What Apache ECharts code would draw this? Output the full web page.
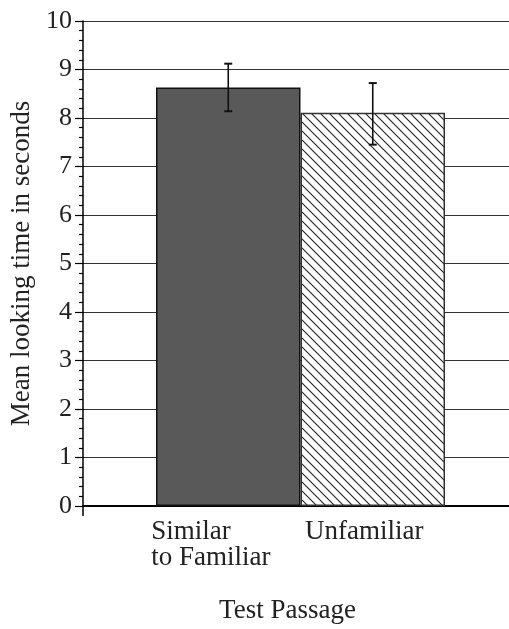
<!DOCTYPE html>
<html><head><meta charset="utf-8">
<script src="https://cdn.jsdelivr.net/npm/echarts@6/dist/echarts.min.js"></script>
<style>html,body{margin:0;padding:0;background:#fff}#c{width:509px;height:629px}</style>
</head><body><div id="c"></div>
<script>
var categories = ['Similar\nto Familiar', 'Unfamiliar'];
var means = [8.63, 8.11];
var errLow = [8.14, 7.45];
var errHigh = [9.12, 8.72];
var yTicks = [0,1,2,3,4,5,6,7,8,9,10];
var xTitle = 'Test Passage';
var yTitle = 'Mean looking time in seconds';

var FONT = '"Liberation Serif", "DejaVu Serif", serif';

function hatch(){
  var s = 9, c = document.createElement('canvas');
  c.width = s; c.height = s;
  var g = c.getContext('2d');
  g.fillStyle = '#fff'; g.fillRect(0,0,s,s);
  g.strokeStyle = '#222'; g.lineWidth = 1.1;
  g.beginPath();
  g.moveTo(-1,-1); g.lineTo(s+1,s+1);
  g.moveTo(-1,s-1); g.lineTo(1,s+1);
  g.moveTo(s-1,-1); g.lineTo(s+1,1);
  g.stroke();
  return c;
}

var chart = echarts.init(document.getElementById('c'), null, {renderer:'canvas'});
var errData = categories.map(function(c,i){ return [i, errLow[i], errHigh[i]]; });

chart.setOption({
  animation: false,
  grid: [
    {left: 83, right: 0, top: 21, bottom: 123},
    {left: 156, right: 64, top: 21, bottom: 123},
    {left: 134, right: 68, top: 21, bottom: 123}
  ],
  xAxis: [
    {gridIndex: 0, type: 'value', min: 0, max: 1,
     axisLine: {show: true, lineStyle: {color: '#000', width: 2}},
     axisTick: {show: true, length: 10, customValues: [0], lineStyle: {color: '#000', width: 1.5}},
     axisLabel: {show: false}, splitLine: {show: false}},
    {gridIndex: 1, type: 'category', data: categories, show: false},
    {gridIndex: 2, type: 'category', data: categories,
     axisLine: {show: false}, axisTick: {show: false}, splitLine: {show: false},
     axisLabel: {show: true, margin: 18, align: 'center', color: '#222',
       formatter: function(v){ return v.split('\n').map(function(l){ return '{a|' + l + '}'; }).join('\n'); },
       rich: {a: {fontFamily: FONT, fontSize: 27, lineHeight: 26, align: 'left', color: '#222'}}},
     name: xTitle, nameLocation: 'middle', nameGap: 96,
     nameTextStyle: {fontFamily: FONT, fontSize: 27, color: '#222'}}
  ],
  yAxis: [
    {gridIndex: 0, type: 'value', min: 0, max: 10, interval: 1,
     axisLine: {show: true, lineStyle: {color: '#000', width: 1.5}},
     axisTick: {show: true, length: 8, lineStyle: {color: '#000', width: 1.2}},
     minorTick: {show: true, splitNumber: 5, length: 4, lineStyle: {color: '#000', width: 1.2}},
     axisLabel: {margin: 11, fontFamily: FONT, fontSize: 26, color: '#222',
       formatter: function(v){ return yTicks.indexOf(v) >= 0 ? String(v) : ''; }},
     splitLine: {show: true, lineStyle: {color: '#333', width: 1.2}},
     name: yTitle, nameLocation: 'middle', nameGap: 44, nameRotate: 90,
     nameTextStyle: {fontFamily: FONT, fontSize: 27, color: '#222'}},
    {gridIndex: 1, type: 'value', min: 0, max: 10, show: false},
    {gridIndex: 2, type: 'value', min: 0, max: 10, show: false}
  ],
  series: [
    {type: 'bar', xAxisIndex: 1, yAxisIndex: 1, barWidth: '100%',
     data: means.map(function(v,i){
       return {value: v, itemStyle: i === 0
         ? {color: '#595959', borderColor: '#111', borderWidth: 1.5}
         : {color: {image: hatch(), repeat: 'repeat'}, borderColor: '#333', borderWidth: 1.5}};
     })},
    {type: 'custom', xAxisIndex: 1, yAxisIndex: 1, z: 5, data: errData,
     renderItem: function(params, api){
       var x = api.value(0);
       var lo = api.coord([x, api.value(1)]);
       var hi = api.coord([x, api.value(2)]);
       var w = 4;
       var st = {stroke: '#111', lineWidth: 1.6};
       return {type: 'group', children: [
         {type: 'line', shape: {x1: lo[0], y1: lo[1], x2: hi[0], y2: hi[1]}, style: st},
         {type: 'line', shape: {x1: lo[0]-w, y1: lo[1], x2: lo[0]+w, y2: lo[1]}, style: {stroke: '#111', lineWidth: 2}},
         {type: 'line', shape: {x1: hi[0]-w, y1: hi[1], x2: hi[0]+w, y2: hi[1]}, style: {stroke: '#111', lineWidth: 2}}
       ]};
     }}
  ]
});
</script></body></html>
